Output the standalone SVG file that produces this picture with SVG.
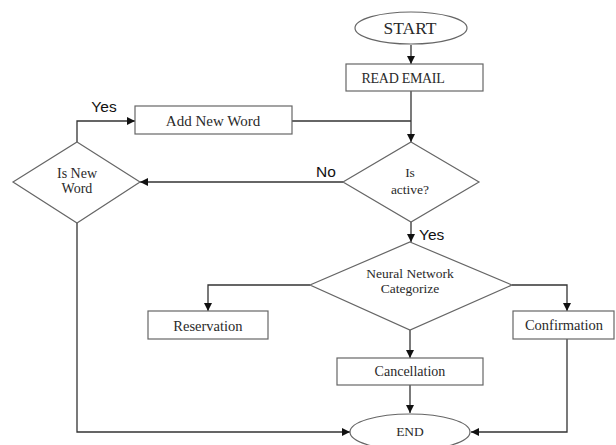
<svg xmlns="http://www.w3.org/2000/svg" width="616" height="445" viewBox="0 0 616 445">
<defs>
<marker id="ah" viewBox="0 0 10 10" refX="10" refY="5" markerWidth="8" markerHeight="8" markerUnits="userSpaceOnUse" orient="auto">
<path d="M0,0 L10,5 L0,10 Z" fill="#111"/>
</marker>
</defs>
<style>
.shape{fill:#fff;stroke:#666;stroke-width:1.2}
.t{font-family:"Liberation Serif",serif;fill:#2a2a2a;text-anchor:middle}
.lbl{font-family:"Liberation Sans",sans-serif;fill:#111;font-size:15.5px}
.c{fill:none;stroke:#333;stroke-width:1.3}
.ca{fill:none;stroke:#333;stroke-width:1.3;marker-end:url(#ah)}
</style>
<rect width="616" height="445" fill="#fff"/>
<g id="connectors">
<line class="ca" x1="411" y1="45" x2="411" y2="64"/>
<line class="ca" x1="411" y1="91" x2="411" y2="142"/>
<polyline class="c" points="292,121 411,121"/>
<polyline class="ca" points="343,182 140,182"/>
<polyline class="ca" points="77,142 77,121 135,121"/>
<polyline class="ca" points="77,223 77,432 350,432"/>
<line class="ca" x1="411" y1="222" x2="411" y2="242"/>
<polyline class="ca" points="310,285 208,285 208,311"/>
<polyline class="ca" points="512,285 567,285 567,311"/>
<line class="ca" x1="410" y1="330" x2="410" y2="358"/>
<line class="ca" x1="410" y1="385" x2="410" y2="413"/>
<polyline class="ca" points="567,339 567,432 471,432"/>
<text class="lbl" x="104" y="112" text-anchor="middle">Yes</text>
<text class="lbl" x="326" y="177" text-anchor="middle">No</text>
<text class="lbl" x="419" y="240">Yes</text>
</g>
<g id="start">
<ellipse class="shape" cx="411" cy="28" rx="56" ry="16"/>
<text class="t" x="410" y="34" font-size="17.5">START</text>
</g>
<g id="read-email">
<rect class="shape" x="346" y="64" width="137" height="27"/>
<text class="t" x="403" y="83" font-size="14" letter-spacing="-0.3">READ EMAIL</text>
</g>
<g id="add-new-word">
<rect class="shape" x="135" y="106" width="157" height="28"/>
<text class="t" x="213" y="126" font-size="15">Add New Word</text>
</g>
<g id="is-active">
<polygon class="shape" points="411,142 479,182 411,222 343,182"/>
<text class="t" x="410" y="177" font-size="13.5">Is</text>
<text class="t" x="410" y="194" font-size="13.5">active?</text>
</g>
<g id="is-new-word">
<polygon class="shape" points="77,142 140,182 77,223 13,182"/>
<text class="t" x="77" y="178" font-size="14">Is New</text>
<text class="t" x="77" y="193" font-size="14">Word</text>
</g>
<g id="neural-network">
<polygon class="shape" points="410,242 512,285 410,330 310,285"/>
<text class="t" x="410" y="278" font-size="13.5">Neural Network</text>
<text class="t" x="410" y="293" font-size="13.5">Categorize</text>
</g>
<g id="reservation">
<rect class="shape" x="148" y="311" width="120" height="28"/>
<text class="t" x="208" y="331" font-size="14.5">Reservation</text>
</g>
<g id="confirmation">
<rect class="shape" x="513" y="311" width="101" height="28"/>
<text class="t" x="564" y="330" font-size="14.5">Confirmation</text>
</g>
<g id="cancellation">
<rect class="shape" x="337" y="358" width="146" height="27"/>
<text class="t" x="410" y="376" font-size="14">Cancellation</text>
</g>
<g id="end">
<ellipse class="shape" cx="410" cy="432" rx="60" ry="18"/>
<text class="t" x="410" y="436" font-size="13.5">END</text>
</g>
</svg>
